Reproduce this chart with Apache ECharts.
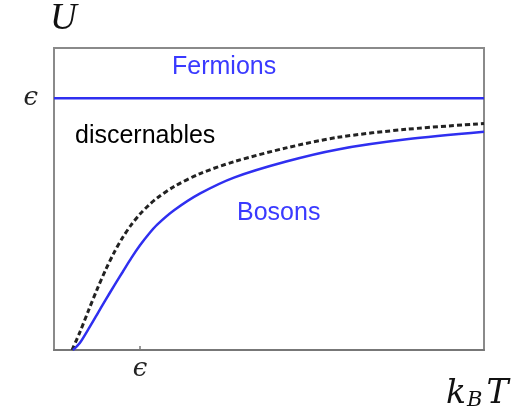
<!DOCTYPE html>
<html><head><meta charset="utf-8">
<script src="https://cdn.jsdelivr.net/npm/echarts@6/dist/echarts.min.js"></script>
<style>html,body{margin:0;padding:0;background:#fff}#c{width:521px;height:414px}</style>
</head><body><div id="c"></div>
<script>
// x in units of epsilon/k_B, y in units of epsilon
const xTicks = [1];
const xTickLabels = ['ϵ'];
const yTicks = [1];
const yTickLabels = ['ϵ'];
const fermionsX = [0, 5];
const fermionsY = [1, 1];
const discernX = [0.21, 0.3, 0.4, 0.5, 0.6, 0.7, 0.8, 0.9, 1.0, 1.1, 1.2, 1.4, 1.7, 2.1, 2.7, 3.3, 4.1, 5.0];
const discernY = [0.0, 0.070, 0.156, 0.240, 0.318, 0.388, 0.448, 0.498, 0.540, 0.575, 0.604, 0.650, 0.701, 0.749, 0.803, 0.845, 0.877, 0.900];
const bosonsX = [0.22, 0.3, 0.4, 0.5, 0.6, 0.7, 0.8, 0.9, 1.0, 1.1, 1.2, 1.4, 1.7, 2.1, 2.7, 3.3, 4.1, 5.0];
const bosonsY = [0.0, 0.028, 0.083, 0.141, 0.199, 0.256, 0.311, 0.366, 0.416, 0.460, 0.498, 0.556, 0.622, 0.686, 0.749, 0.797, 0.837, 0.867];
const zip = (a, b) => a.map((v, i) => [v, b[i]]);
const blue = '#2f2ff0';
const epsFont = {fontFamily: 'DejaVu Serif', fontStyle: 'italic', fontSize: 26, color: '#222'};
const chart = echarts.init(document.getElementById('c'), null, {renderer: 'canvas'});
chart.setOption({
  animation: false,
  grid: {left: 54, top: 48, width: 430, height: 302, show: true, borderColor: '#8a8a8a', borderWidth: 2, backgroundColor: 'transparent'},
  xAxis: {
    type: 'value', min: 0, max: 5,
    axisLine: {lineStyle: {color: '#777', width: 2}},
    splitLine: {show: false},
    axisTick: {show: true, inside: true, length: 4, customValues: xTicks, lineStyle: {color: '#777', width: 1.5}},
    axisLabel: Object.assign({customValues: xTicks, formatter: v => xTickLabels[xTicks.indexOf(v)], margin: 6}, epsFont)
  },
  yAxis: {
    type: 'value', min: 0, max: 1.2,
    axisLine: {show: true, lineStyle: {color: '#8a8a8a', width: 2}},
    splitLine: {show: false},
    axisTick: {show: false},
    axisLabel: Object.assign({customValues: yTicks, formatter: v => yTickLabels[yTicks.indexOf(v)], margin: 16}, epsFont)
  },
  series: [
    {type: 'line', data: zip(fermionsX, fermionsY), showSymbol: false, lineStyle: {color: blue, width: 2.5}},
    {type: 'line', data: zip(discernX, discernY), smooth: 0.3, showSymbol: false, lineStyle: {color: '#222', width: 3, type: [5, 3]}},
    {type: 'line', data: zip(bosonsX, bosonsY), smooth: 0.3, showSymbol: false, lineStyle: {color: blue, width: 2.5}}
  ],
  graphic: [
    {type: 'text', left: 172, top: 55, style: {text: 'Fermions', font: '25px "Liberation Sans"', fill: '#3a3aff'}},
    {type: 'text', left: 75, top: 124, style: {text: 'discernables', font: '25px "Liberation Sans"', fill: '#000'}},
    {type: 'text', left: 237, top: 201, style: {text: 'Bosons', font: '25px "Liberation Sans"', fill: '#3a3aff'}},
    {type: 'text', left: 50, top: 1, style: {text: 'U', font: 'italic 37px "Liberation Serif"', fill: '#111'}},
    {type: 'text', left: 446, top: 378, style: {
      text: '{k|k}{b|B}{t|T}',
      rich: {
        k: {font: 'italic 33px "DejaVu Serif"', fill: '#111'},
        b: {font: 'italic 21px "DejaVu Serif"', fill: '#111', padding: [13, 0, 0, 1]},
        t: {font: 'italic 33px "DejaVu Serif"', fill: '#111', padding: [0, 0, 0, 4]}
      }
    }}
  ]
});
</script></body></html>
